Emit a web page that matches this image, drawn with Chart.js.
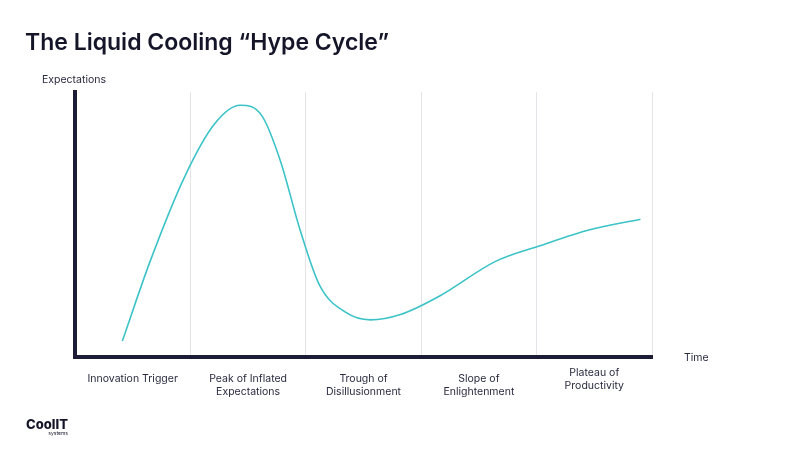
<!DOCTYPE html>
<html>
<head>
<meta charset="utf-8">
<script src="https://cdn.jsdelivr.net/npm/chart.js@4"></script>
<style>
  body { margin: 0; background: #fff; font-family: Inter, "Noto Sans", sans-serif; }
  #wrap { position: relative; width: 800px; height: 450px; overflow: hidden; }
  h1 { position: absolute; left: 25px; top: 28px; margin: 0; font-size: 23px; font-weight: 600; color: #15152a; }
  #logo { position: absolute; left: 26px; top: 418px; font-size: 13px; font-weight: 800; color: #15152a; line-height: 12px; }
  #logo small { display: block; font-size: 5px; font-weight: 400; text-align: right; line-height: 6px; }
</style>
</head>
<body>
<div id="wrap">
  <h1>The Liquid Cooling “Hype Cycle”</h1>
  <canvas id="hype" width="800" height="450"></canvas>
  <div id="logo">CoolIT<small>systems</small></div>
</div>
<script>
// curva aproximada
const curveX = [0.41, 0.65, 0.95, 1.21, 1.43, 1.62, 1.78, 1.95, 2.12, 2.34, 2.56, 2.82, 3.16, 3.64, 4.03, 4.46, 4.9];
const curveY = [6, 36, 68, 88, 95, 91, 74, 48, 27, 17, 14, 16, 23, 36, 42, 48, 52];
const phases = [
  ['Innovation Trigger'],
  ['Peak of Inflated', 'Expectations'],
  ['Trough of', 'Disillusionment'],
  ['Slope of', 'Enlightenment'],
  ['Plateau of', 'Productivity']
];
const phaseX = [0.5, 1.5, 2.5, 3.5, 4.5];
const phaseRaise = [0, 0, 0, 0, 6];

const labelsPlugin = {
  id: 'labels',
  afterDraw(chart) {
    const c = chart.ctx, x = chart.scales.x, a = chart.chartArea;
    c.save();
    c.fillStyle = '#2a2a40';
    c.font = '10.5px Inter, "Noto Sans", sans-serif';
    c.textAlign = 'center';
    phases.forEach((lines, i) => {
      const px = x.getPixelForValue(phaseX[i]);
      lines.forEach((t, j) => c.fillText(t, px, a.bottom + 25 - phaseRaise[i] + j * 13));
    });
    c.textAlign = 'left';
    c.fillText('Expectations', 42, a.top - 9);
    c.fillText('Time', a.right + 32, a.bottom + 4);
    c.restore();
  }
};

new Chart(document.getElementById('hype'), {
  type: 'line',
  data: {
    datasets: [{
      data: curveX.map((v, i) => ({ x: v, y: curveY[i] })),
      borderColor: '#3cc3c7',
      borderWidth: 1.6,
      cubicInterpolationMode: 'monotone',
      pointRadius: 0,
      fill: false
    }]
  },
  options: {
    responsive: false,
    animation: false,
    layout: { padding: { left: 75, right: 148, top: 92, bottom: 93 } },
    scales: {
      x: {
        type: 'linear', min: 0, max: 5,
        ticks: { display: false, stepSize: 1 },
        grid: { color: ctx => ctx.tick && ctx.tick.value === 0 ? 'rgba(0,0,0,0)' : '#e4e4e8', lineWidth: 1, drawTicks: false },
        border: { color: '#1c1c36', width: 4 }
      },
      y: {
        min: 0, max: 100,
        ticks: { display: false },
        grid: { display: false, drawTicks: false },
        border: { color: '#1c1c36', width: 4 }
      }
    },
    plugins: { legend: { display: false }, tooltip: { enabled: false } }
  },
  plugins: [labelsPlugin]
});
</script>
</body>
</html>
